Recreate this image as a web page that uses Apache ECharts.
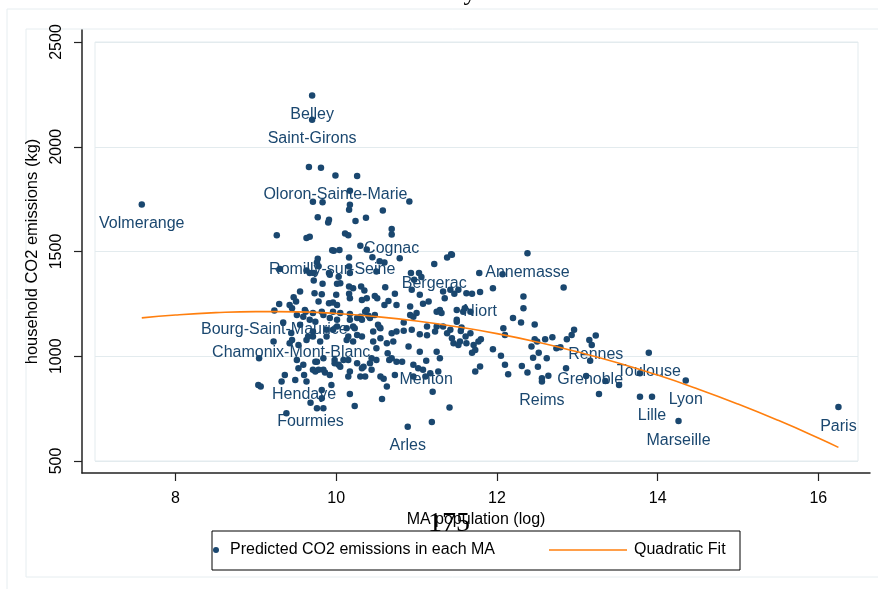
<!DOCTYPE html>
<html>
<head>
<meta charset="utf-8">
<script src="https://cdn.jsdelivr.net/npm/echarts@6/dist/echarts.min.js"></script>
<style>
html,body{margin:0;padding:0;background:#fff;}
#chart{width:878px;height:589px;}
</style>
</head>
<body>
<div id="chart"></div>
<script>
// ---- data ----
const xTicks = [8, 10, 12, 14, 16];
const yTicks = [500, 1000, 1500, 2000, 2500];

const maPopLog = [
9.66,9.81,10.26,10.17,9.71,9.83,10.17,10.16,10.91,10.58,9.77,9.91,9.90,10.24,10.37,10.69,9.26,9.63,9.67,10.11,
10.15,10.30,10.38,9.97,10.04,9.77,9.76,10.16,10.45,10.54,10.60,10.79,10.50,11.38,11.43,11.78,12.07,12.83,9.30,9.63,
9.67,9.72,9.91,9.92,10.03,9.72,9.83,10.01,10.16,10.16,10.21,10.31,10.35,10.61,10.93,11.03,11.06,10.94,10.92,11.33,
11.42,11.47,11.52,11.62,11.69,11.95,12.33,9.55,9.73,9.82,10.00,9.47,9.50,9.78,9.91,10.01,10.16,10.17,10.32,10.38,
10.48,10.60,10.65,10.73,10.75,11.04,11.08,11.15,11.29,11.25,11.50,11.58,11.67,12.33,12.20,12.30,12.47,9.29,9.42,9.62,
9.71,9.51,10.05,10.17,10.36,10.30,10.40,10.55,10.84,10.92,10.96,11.13,11.25,11.42,11.50,11.55,11.61,12.08,12.10,9.34,
9.55,9.74,9.88,9.84,9.92,10.01,10.13,10.21,10.26,10.32,10.75,10.84,10.94,11.04,11.13,11.23,11.67,11.80,12.47,12.60,
9.45,9.42,9.22,10.54,11.33,11.38,11.44,11.46,11.54,11.62,11.71,9.53,9.63,9.71,9.80,9.88,10.15,10.21,10.26,10.46,
10.55,10.63,10.71,10.90,11.04,11.25,11.29,9.04,9.51,9.59,9.53,9.74,9.84,9.98,10.03,10.09,10.15,10.26,10.34,10.44,
10.50,10.44,10.66,10.75,10.82,10.96,11.02,11.17,11.27,9.36,9.32,9.49,9.63,9.74,9.78,9.86,10.15,10.30,10.32,10.59,
10.73,10.63,9.03,9.06,9.82,9.94,10.17,10.57,11.20,9.38,9.76,9.84,9.82,10.23,11.41,11.19,11.44,11.56,11.50,11.77,
11.69,11.73,11.95,12.05,12.10,12.14,12.31,12.38,11.73,11.79,12.43,12.50,12.52,12.45,12.51,12.62,12.69,12.74,12.79,12.87,
12.93,12.96,12.86,12.56,12.64,13.15,13.18,13.11,13.35,13.52,13.27,13.78,13.78,9.78,10.05,10.17,9.96,10.51,10.97,11.35,
9.61,9.82,9.96,9.59,9.67,10.01,10.17,10.38,10.48,10.42,10.52,10.46,10.23,10.13,10.32,9.71,9.65,9.96,9.76,9.71,
9.84,9.98,10.05,9.92,10.17,10.42,10.36,10.55,10.50,11.00,11.31,11.60,10.69,11.52,10.64,10.69,11.08,10.96,11.11,9.45
];
const co2Kg = [
1903,1900,1860,1790,1737,1735,1723,1699,1739,1696,1664,1651,1638,1646,1661,1581,1578,1565,1570,1586,
1578,1527,1510,1503,1507,1465,1447,1471,1472,1454,1447,1468,1404,1471,1487,1397,1392,1328,1416,1409,
1397,1397,1397,1389,1379,1361,1346,1346,1428,1333,1325,1333,1314,1329,1397,1397,1378,1317,1237,1309,
1317,1298,1317,1301,1298,1325,1285,1309,1301,1296,1293,1282,1261,1261,1253,1245,1298,1277,1269,1277,
1288,1245,1264,1298,1245,1293,1250,1261,1221,1213,1221,1213,1213,1229,1182,1161,1152,1249,1245,1213,
1206,1197,1206,1202,1213,1189,1193,1134,1161,1197,1189,1142,1142,1126,1165,1121,1094,1134,1102,1161,
1150,1165,1126,1197,1182,1142,1134,1142,1182,1174,1118,1122,1126,1105,1100,1118,1110,1081,1081,1081,
1078,1062,1070,1137,1142,1110,1086,1062,1070,1062,1054,1054,1078,1094,1070,1094,1094,1070,1102,1070,
1086,1062,1070,1046,1022,1022,991,991,982,959,943,974,991,982,959,982,982,967,950,991,
982,935,982,974,974,959,943,919,927,911,879,887,879,927,935,922,903,903,943,892,
911,855,863,856,839,863,820,796,831,728,752,752,800,763,755,686,1484,1137,1174,1070,
1017,1030,1034,1002,959,914,954,922,927,951,1046,1070,1017,993,950,991,1091,1038,1043,1081,
1102,1126,943,895,907,1078,1054,906,882,863,820,919,807,1430,1349,1397,1256,1277,1365,1277,
1221,1213,1213,1189,1174,1174,1174,1221,1197,1182,1150,1118,1134,1078,1094,1118,1094,1126,974,935,
935,967,950,911,927,967,903,903,1038,1206,1206,1229,1110,1054,1014,991,935,903,903,1229
];

const labelNames = ['Belley','Saint-Girons','Volmerange','Oloron-Sainte-Marie','Cognac','Romilly-sur-Seine',
  'Bergerac','Annemasse','Niort','Bourg-Saint-Maurice','Chamonix-Mont-Blanc','Hendaye','Fourmies','Menton',
  'Arles','Rennes','Grenoble','Reims','Toulouse','Lyon','Lille','Marseille','Paris'];
const labelPopLog = [9.70,9.70,7.58,9.99,10.69,9.95,11.22,12.38,11.79,9.23,9.44,9.60,9.68,11.12,
  10.89,13.23,13.16,12.56,13.89,14.35,13.93,14.26,16.25];
const labelCo2 = [2245,2129,1724,1863,1607,1506,1440,1492,1307,1218,1111,911,778,979,
  664,1099,979,879,1017,884,807,691,758];

const fitX = [7.58,8,8.5,9,9.5,10,10.5,11,11.5,12,12.5,13,13.5,14,14.5,15,15.5,16,16.25];
const fitY = [1183,1197,1208,1213,1212,1204,1189,1168,1141,1108,1068,1021,969,910,844,772,694,610,565];

// ---- chart ----
const navy = '#1a476f';
const orange = '#ff7f0e';
const gridLight = '#e3ebee';
const font = 'Liberation Sans, Arial, sans-serif';
const scatterName = 'Predicted CO2 emissions in each MA';

const scatterData = maPopLog.map((x, i) => [x, co2Kg[i]]);
const labelData = labelNames.map((n, i) => ({ value: [labelPopLog[i], labelCo2[i]], name: n }));
const fitData = fitX.map((x, i) => [x, fitY[i]]);

const chart = echarts.init(document.getElementById('chart'), null, { renderer: 'canvas' });
chart.setOption({
  animation: false,
  backgroundColor: '#fff',
  textStyle: { fontFamily: font },
  grid: [
    { left: 82, top: 30, right: 8, bottom: 116, show: false },
    { left: 95, top: 42, width: 763, height: 419, show: true, borderColor: gridLight, borderWidth: 1, backgroundColor: 'transparent', z: 0 }
  ],
  xAxis: [
    {
      type: 'value', gridIndex: 0, min: 6.836, max: 16.643,
      axisLine: { show: true, onZero: false, lineStyle: { color: '#222', width: 1.5 } },
      axisTick: { show: true, customValues: xTicks, length: 8, lineStyle: { color: '#222', width: 1.2 } },
      axisLabel: { customValues: xTicks, color: '#000', fontSize: 16, margin: 18, fontFamily: font,
        formatter: v => String(v) },
      splitLine: { show: false },
      name: 'MA population (log)', nameLocation: 'middle', nameGap: 30,
      nameTextStyle: { color: '#000', fontSize: 16, fontFamily: font }
    },
    { type: 'value', gridIndex: 1, min: 0, max: 1, show: false }
  ],
  yAxis: [
    {
      type: 'value', gridIndex: 0, min: 442.7, max: 2557.3,
      axisLine: { show: true, onZero: false, lineStyle: { color: '#222', width: 1.5 } },
      axisTick: { show: true, customValues: yTicks, length: 8, lineStyle: { color: '#222', width: 1.2 } },
      axisLabel: { customValues: yTicks, rotate: 90, color: '#000', fontSize: 16, margin: 17, fontFamily: font,
        formatter: v => String(v) },
      splitLine: { show: false },
      name: 'household CO2 emissions (kg)', nameLocation: 'middle', nameGap: 33,
      nameTextStyle: { color: '#000', fontSize: 16.5, fontFamily: font }
    },
    {
      type: 'value', gridIndex: 1, min: 500, max: 2500, interval: 500,
      axisLine: { show: false }, axisTick: { show: false }, axisLabel: { show: false },
      splitLine: { show: true, lineStyle: { color: gridLight, width: 1.2 } }
    }
  ],
  legend: [
    {
      data: [scatterName], left: 213, top: 542, padding: 0,
      itemWidth: 18, itemHeight: 6, icon: 'circle',
      textStyle: { color: '#000', fontSize: 16, fontFamily: font }
    },
    {
      data: [{ name: 'Quadratic Fit', icon: 'rect' }], left: 549, top: 542, padding: 0,
      itemWidth: 78, itemHeight: 1.6,
      itemStyle: { color: orange },
      textStyle: { color: '#000', fontSize: 16, fontFamily: font, padding: [0, 0, 0, 2] }
    }
  ],
  graphic: [
    { type: 'rect', shape: { x: 7, y: 9, width: 900, height: 600 }, style: { fill: 'none', stroke: '#e6edf0', lineWidth: 1 }, z: -10 },
    { type: 'rect', shape: { x: 26, y: 29, width: 900, height: 548 }, style: { fill: 'none', stroke: '#e6edf0', lineWidth: 1 }, z: -10 },
    { type: 'rect', shape: { x: 212, y: 531, width: 528, height: 39 }, style: { fill: 'none', stroke: '#000', lineWidth: 1 }, z: 10 },
    { type: 'text', x: 449, y: 524, style: { text: '175', fontSize: 28, fontFamily: 'Liberation Serif, Times New Roman, serif', fill: '#000', align: 'center', verticalAlign: 'middle' }, z: 20 },
    { type: 'text', x: 470, y: 6, style: { text: 'y', fontSize: 26, fontFamily: 'Liberation Serif, Times New Roman, serif', fill: '#000', align: 'center', verticalAlign: 'bottom' }, z: 20 }
  ],
  series: [
    {
      name: scatterName, type: 'scatter', xAxisIndex: 0, yAxisIndex: 0,
      data: scatterData, symbol: 'circle', symbolSize: 6.5,
      itemStyle: { color: navy, opacity: 1 }, z: 3
    },
    {
      name: scatterName, type: 'scatter', xAxisIndex: 0, yAxisIndex: 0,
      data: labelData, symbol: 'circle', symbolSize: 6.5,
      itemStyle: { color: navy, opacity: 1 }, z: 3,
      label: { show: true, position: 'bottom', distance: 8, formatter: p => p.name, color: navy, fontSize: 16, fontFamily: font }
    },
    {
      name: 'Quadratic Fit', type: 'line', xAxisIndex: 0, yAxisIndex: 0,
      data: fitData, smooth: true, symbol: 'none', showSymbol: false,
      lineStyle: { color: orange, width: 1.6 }, itemStyle: { color: orange }, z: 4
    }
  ]
});
</script>
</body>
</html>
